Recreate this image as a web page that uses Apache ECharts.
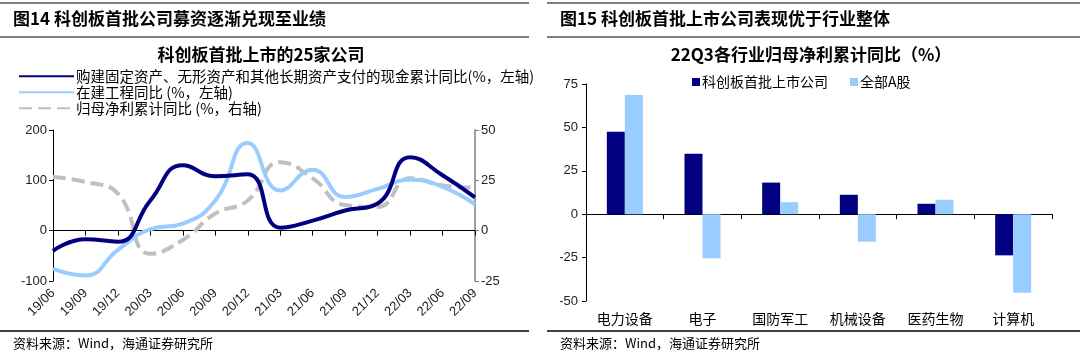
<!DOCTYPE html>
<html><head><meta charset="utf-8">
<script src="https://cdn.jsdelivr.net/npm/echarts@6/dist/echarts.min.js"></script>
<style>html,body{margin:0;padding:0;background:#fff}#c{width:1080px;height:358px}</style>
</head><body><div id="c"></div>
<script>
// ---- data ----
const quarters = ['19/06','19/09','19/12','20/03','20/06','20/09','20/12','21/03','21/06','21/09','21/12','22/03','22/06','22/09'];
const capexYoY = [-40,-17,-22,60,130,108,112,6,20,40,54,146,110,66];
const cipYoY   = [-76,-89,-38,3,14,60,174,80,121,67,83,101,87,52];
const profitYoY = [26.6,24.2,18.4,-11.5,-4.6,8.5,15,34,26,12.7,11.8,26,22.5,21.4];
const industries = ['电力设备','电子','国防军工','机械设备','医药生物','计算机'];
const starFirst = [47.5,34.8,18.2,11.2,6,-23.7];
const allA = [68.7,-25.4,6.9,-15.8,8.3,-45.2];

const CJK = '"Noto Sans CJK SC", "Liberation Sans", sans-serif';
const NUM = '"Liberation Sans", Arial, sans-serif';
const navy = '#000080', sky = '#99CCFF', gray = '#C0C0C0';

const chart = echarts.init(document.getElementById('c'), null, {renderer:'canvas'});
chart.setOption({
  animation:false,
  backgroundColor:'#fff',
  title:[
    {text:'科创板首批上市的25家公司', left:256, textAlign:'center', top:41,
     textStyle:{fontFamily:CJK, fontSize:17, fontWeight:'bold', color:'#000'}},
    {text:'22Q3各行业归母净利累计同比（%）', left:806, textAlign:'center', top:41,
     textStyle:{fontFamily:CJK, fontSize:17, fontWeight:'bold', color:'#000'}}
  ],
  legend:[
    {data:['购建固定资产、无形资产和其他长期资产支付的现金累计同比(%，左轴)','在建工程同比 (%，左轴)','归母净利累计同比 (%，右轴)'],
     orient:'vertical', left:13, top:64, itemWidth:55, itemHeight:15, itemGap:1.5,
     itemStyle:{opacity:0},
     textStyle:{fontFamily:CJK, fontSize:14.5, color:'#000', padding:[0,0,0,-3]}},
    {data:['科创板首批上市公司','全部A股'], left:687, top:70, itemWidth:8, itemHeight:8, itemGap:22,
     icon:'rect', textStyle:{fontFamily:CJK, fontSize:14, color:'#000', padding:[0,0,0,-3]}}
  ],
  grid:[
    {left:53, right:605, top:130, bottom:77, outerBoundsMode:'none', containLabel:false},
    {left:586, right:28, top:84, bottom:57, outerBoundsMode:'none', containLabel:false}
  ],
  xAxis:[
    {type:'category', gridIndex:0, data:quarters, boundaryGap:false,
     axisLine:{onZero:true, lineStyle:{color:'#000', width:1}},
     axisTick:{show:true, alignWithLabel:true, length:5, inside:false, lineStyle:{color:'#000'}},
     axisLabel:{rotate:45, margin:10, fontFamily:NUM, fontSize:13, color:'#222', interval:0}},
    {type:'category', gridIndex:1, data:industries,
     axisLine:{onZero:true, lineStyle:{color:'#000', width:1}},
     axisTick:{show:true, length:5, lineStyle:{color:'#000'}},
     axisLabel:{margin:11, fontFamily:CJK, fontSize:14, color:'#000', interval:0}}
  ],
  yAxis:[
    {type:'value', gridIndex:0, min:-100, max:200, interval:100,
     axisLine:{show:true, lineStyle:{color:'#000'}}, axisTick:{show:true, length:4, lineStyle:{color:'#000'}},
     splitLine:{show:false}, axisLabel:{fontFamily:NUM, fontSize:13, color:'#222', margin:6}},
    {type:'value', gridIndex:0, position:'right', min:-25, max:50, interval:25,
     axisLine:{show:true, lineStyle:{color:'#808080', width:1.5}}, axisTick:{show:true, length:4, lineStyle:{color:'#808080'}},
     splitLine:{show:false}, axisLabel:{fontFamily:NUM, fontSize:13, color:'#222', margin:6}},
    {type:'value', gridIndex:1, min:-50, max:75, interval:25,
     axisLine:{show:true, lineStyle:{color:'#000'}}, axisTick:{show:true, length:4, lineStyle:{color:'#000'}},
     splitLine:{show:false}, axisLabel:{fontFamily:NUM, fontSize:13, color:'#222', margin:8}}
  ],
  series:[
    {name:'购建固定资产、无形资产和其他长期资产支付的现金累计同比(%，左轴)', type:'line', xAxisIndex:0, yAxisIndex:0,
     data:capexYoY, smooth:0.5, symbol:'none', lineStyle:{color:navy, width:4}, itemStyle:{color:navy}, z:4},
    {name:'在建工程同比 (%，左轴)', type:'line', xAxisIndex:0, yAxisIndex:0,
     data:cipYoY, smooth:0.5, symbol:'none', lineStyle:{color:sky, width:4}, itemStyle:{color:sky}, z:3},
    {name:'归母净利累计同比 (%，右轴)', type:'line', xAxisIndex:0, yAxisIndex:1,
     data:profitYoY, smooth:0.5, symbol:'none', lineStyle:{color:gray, width:4, type:[13,6]}, itemStyle:{color:gray}, z:2},
    {name:'科创板首批上市公司', type:'bar', xAxisIndex:1, yAxisIndex:2, data:starFirst,
     barWidth:18, barGap:'0%', itemStyle:{color:navy}},
    {name:'全部A股', type:'bar', xAxisIndex:1, yAxisIndex:2, data:allA,
     barWidth:18, barGap:'0%', itemStyle:{color:sky}}
  ],
  graphic:[
    {type:'line', shape:{x1:0,y1:3,x2:529,y2:3}, style:{stroke:'#808080', lineWidth:2}},
    {type:'line', shape:{x1:0,y1:37,x2:529,y2:37}, style:{stroke:'#808080', lineWidth:2}},
    {type:'line', shape:{x1:547,y1:3,x2:1080,y2:3}, style:{stroke:'#808080', lineWidth:2}},
    {type:'line', shape:{x1:547,y1:37,x2:1080,y2:37}, style:{stroke:'#808080', lineWidth:2}},
    {type:'line', shape:{x1:0,y1:331,x2:529,y2:331}, style:{stroke:'#000', lineWidth:1.5}},
    {type:'line', shape:{x1:547,y1:331,x2:1080,y2:331}, style:{stroke:'#000', lineWidth:1.5}},
    {type:'text', left:13, top:10, style:{text:'图14 科创板首批公司募资逐渐兑现至业绩', font:'bold 17px '+CJK, fill:'#000'}},
    {type:'text', left:560, top:10, style:{text:'图15 科创板首批上市公司表现优于行业整体', font:'bold 17px '+CJK, fill:'#000'}},
    {type:'text', left:13, top:337, style:{text:'资料来源：Wind，海通证券研究所', font:'13px '+CJK, fill:'#000'}},
    {type:'text', left:560, top:337, style:{text:'资料来源：Wind，海通证券研究所', font:'13px '+CJK, fill:'#000'}}
  ]
});
</script></body></html>
